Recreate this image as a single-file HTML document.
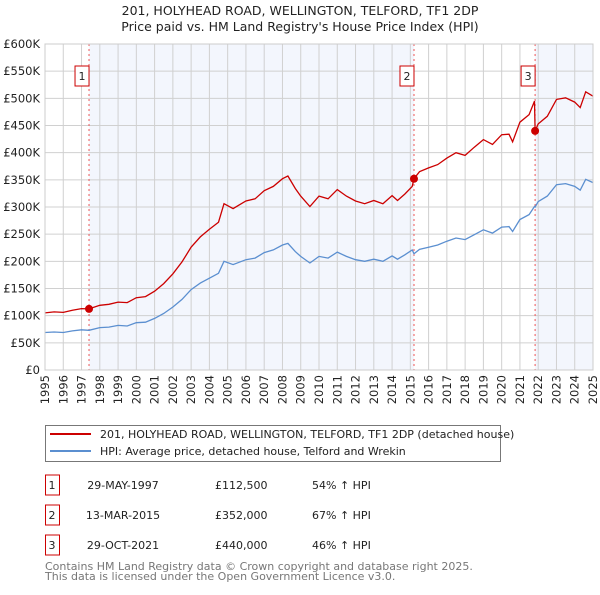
<!DOCTYPE html>
<html><head><meta charset="utf-8"><style>
body{margin:0;background:#fff;}
svg text{font-family:"DejaVu Sans","Liberation Sans",sans-serif;}
</style></head><body>
<svg id="chart" width="600" height="590" viewBox="0 0 600 590" xmlns="http://www.w3.org/2000/svg">
<text x="300" y="15" text-anchor="middle" font-size="12.5" fill="#222">201, HOLYHEAD ROAD, WELLINGTON, TELFORD, TF1 2DP</text>
<text x="300" y="31" text-anchor="middle" font-size="12.5" fill="#222">Price paid vs. HM Land Registry's House Price Index (HPI)</text>
<g id="plot"></g>
<g>
<rect x="45.5" y="425.5" width="455" height="36" fill="#fff" stroke="#777"/>
<line x1="50" y1="434" x2="91" y2="434" stroke="#cc0000" stroke-width="2"/>
<text x="100" y="438" font-size="11" fill="#222">201, HOLYHEAD ROAD, WELLINGTON, TELFORD, TF1 2DP (detached house)</text>
<line x1="50" y1="451" x2="91" y2="451" stroke="#5b8fd0" stroke-width="2"/>
<text x="100" y="455" font-size="11" fill="#222">HPI: Average price, detached house, Telford and Wrekin</text>
</g>
<g id="table"></g>
<text x="45" y="570" font-size="11" fill="#777">Contains HM Land Registry data © Crown copyright and database right 2025.</text>
<text x="45" y="580" font-size="11" fill="#777">This data is licensed under the Open Government Licence v3.0.</text>
</svg>
<script>
const years=[1995.0,1995.5,1996.0,1996.5,1997.0,1997.41,1998.0,1998.5,1999.0,1999.5,2000.0,2000.5,2001.0,2001.5,2002.0,2002.5,2003.0,2003.5,2004.0,2004.5,2004.8,2005.3,2006.0,2006.5,2007.0,2007.5,2008.0,2008.3,2008.7,2009.0,2009.5,2010.0,2010.5,2011.0,2011.5,2012.0,2012.5,2013.0,2013.5,2014.0,2014.3,2014.7,2015.1,2015.2,2015.5,2016.0,2016.5,2017.0,2017.5,2018.0,2018.5,2019.0,2019.5,2020.0,2020.4,2020.6,2021.0,2021.5,2021.8,2021.83,2022.0,2022.5,2023.0,2023.5,2024.0,2024.3,2024.6,2025.0];
const hpiValues=[69,70,69,72,74,73,78,79,82,81,87,88,95,104,116,130,148,160,169,178,200,194,203,206,216,221,230,233,218,209,197,209,206,217,209,203,200,204,200,210,204,212,221,214,222,226,230,237,243,240,249,258,252,263,264,255,277,286,301,300,310,320,341,343,338,331,351,345];
const propertyValues=[105,107,106,110,113,112.5,119,121,125,124,133,135,145,159,177,199,226,245,259,272,306,297,311,315,330,338,352,357,334,320,301,320,315,332,320,311,306,312,306,321,312,324,338,352,365,372,378,390,400,395,410,424,415,433,434,420,456,470,495,440,453,467,498,501,493,483,512,504];
const saleYears=[1997.41,2015.2,2021.83];
const saleValues=[112.5,352,440];
const saleLabels=["1","2","3"];
const saleDates=["29-MAY-1997","13-MAR-2015","29-OCT-2021"];
const salePrices=["£112,500","£352,000","£440,000"];
const saleHpi=["54% ↑ HPI","67% ↑ HPI","46% ↑ HPI"];
const yTicks=[0,50,100,150,200,250,300,350,400,450,500,550,600];
const yTickLabels=["£0","£50K","£100K","£150K","£200K","£250K","£300K","£350K","£400K","£450K","£500K","£550K","£600K"];
const xTicks=[1995,1996,1997,1998,1999,2000,2001,2002,2003,2004,2005,2006,2007,2008,2009,2010,2011,2012,2013,2014,2015,2016,2017,2018,2019,2020,2021,2022,2023,2024,2025];

const NS="http://www.w3.org/2000/svg";
const X0=45,X1=593,Y0=370,Y1=44;
const xs=y=>X0+(y-1995)/30*(X1-X0);
const ys=v=>Y0-v/600*(Y0-Y1);
const plot=document.getElementById('plot');
function mk(tag,attrs,parent){const e=document.createElementNS(NS,tag);for(const k in attrs)e.setAttribute(k,attrs[k]);(parent||plot).appendChild(e);return e;}

let sh=mk('rect',{x:xs(saleYears[0]),y:Y1,width:xs(saleYears[1])-xs(saleYears[0]),height:Y0-Y1,fill:'#f3f6fd'});


let sh2=mk('rect',{x:xs(saleYears[2]),y:Y1,width:X1-xs(saleYears[2]),height:Y0-Y1,fill:'#f3f6fd'});



yTicks.forEach((t,i)=>{
  const l=mk('line',{x1:X0,x2:X1,y1:ys(t),y2:ys(t),stroke:'#d0d0d0','stroke-width':1});
  
  
  const tx=mk('text',{x:40,y:ys(t)+4,'text-anchor':'end','font-size':11.5,fill:'#222'});
  tx.textContent=yTickLabels[i];
  
  
});
xTicks.forEach(t=>{
  const l=mk('line',{x1:xs(t),x2:xs(t),y1:Y1,y2:Y0,stroke:'#d0d0d0','stroke-width':1});
  
  
  const tx=mk('text',{x:0,y:0,'text-anchor':'end','font-size':11.5,fill:'#222',transform:`translate(${xs(t)+4},375) rotate(-90)`});
  tx.textContent=t;
  
  
});
saleYears.forEach((s,i)=>{
  const l=mk('line',{x1:xs(s),x2:xs(s),y1:Y1,y2:Y0,stroke:'#ee5555','stroke-width':1,'stroke-dasharray':'2,3'});
  
  
  const r=mk('rect',{x:xs(s)-14,y:66,width:14,height:20,fill:'#fff',stroke:'#cc0000'});
  
  
  const t=mk('text',{x:xs(s)-7,y:80,'text-anchor':'middle','font-size':11,fill:'#222'});
  t.textContent=saleLabels[i];
  
  
});
const hp=mk('path',{d:years.map((y,i)=>(i?'L':'M')+xs(y).toFixed(1)+','+ys(hpiValues[i]).toFixed(1)).join(''),fill:'none',stroke:'#5b8fd0','stroke-width':1.3});


const pp=mk('path',{d:years.map((y,i)=>(i?'L':'M')+xs(y).toFixed(1)+','+ys(propertyValues[i]).toFixed(1)).join(''),fill:'none',stroke:'#cc0000','stroke-width':1.3});


saleYears.forEach((s,i)=>{
  const c=mk('circle',{cx:xs(s),cy:ys(saleValues[i]),r:4,fill:'#cc0000'});
  
  
});
const ax=mk('rect',{x:X0,y:Y1,width:X1-X0,height:Y0-Y1,fill:'none',stroke:'#ccc'});



const tb=document.getElementById('table');
saleLabels.forEach((lab,i)=>{
  const cy=485+i*30;
  const r=mk('rect',{x:45.5,y:cy-10,width:14,height:20,fill:'#fff',stroke:'#cc0000'},tb);
  
  
  const vals=[[52,lab,'middle'],[123,saleDates[i],'middle'],[215,salePrices[i],'start'],[312,saleHpi[i],'start']];
  vals.forEach(v=>{
    const t=mk('text',{x:v[0],y:cy+4,'text-anchor':v[2],'font-size':11,fill:'#222'},tb);
    t.textContent=v[1];
    
    
  });
});
</script>
</body></html>
